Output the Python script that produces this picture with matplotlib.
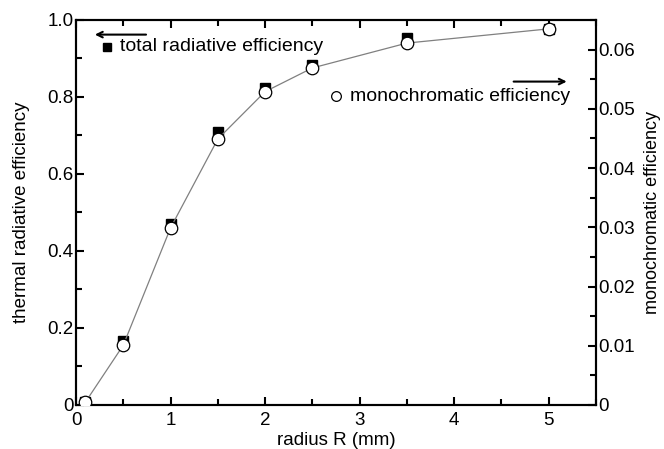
import matplotlib.pyplot as plt
from matplotlib.ticker import MultipleLocator

plt.rcParams['font.family'] = ['Liberation Sans', 'DejaVu Sans']

# radius R (mm)
radius = [0.1, 0.5, 1.0, 1.5, 2.0, 2.5, 3.5, 5.0]
# total radiative efficiency (left axis)
total_eff = [0.008, 0.165, 0.47, 0.71, 0.823, 0.882, 0.952, 0.977]
# monochromatic efficiency (right axis)
mono_eff = [0.0005, 0.0101, 0.0299, 0.0449, 0.0529, 0.0569, 0.0611, 0.0635]

fig = plt.figure(figsize=(6.64, 4.49), dpi=100)
ax = fig.add_axes([0.1145, 0.098, 0.783, 0.8575])
ax2 = ax.twinx()

ax.plot(radius, total_eff, 's', color='black', markersize=7, zorder=2)
ax2.plot(radius, mono_eff, '-', color='#808080', linewidth=0.9, zorder=1)
ax2.plot(radius, mono_eff, 'o', color='black', markerfacecolor='white',
         markersize=9, markeredgewidth=0.9, zorder=3)

ax.set_xlim(0, 5.5)
ax.set_ylim(0, 1.0)
ax2.set_ylim(0, 0.065)

ax.xaxis.set_minor_locator(MultipleLocator(0.5))
ax.yaxis.set_minor_locator(MultipleLocator(0.1))
ax2.yaxis.set_minor_locator(MultipleLocator(0.005))

ax.set_xticks([0, 1, 2, 3, 4, 5])
ax.set_xticklabels(['0', '1', '2', '3', '4', '5'])
ax.set_yticks([0, 0.2, 0.4, 0.6, 0.8, 1.0])
ax.set_yticklabels(['0', '0.2', '0.4', '0.6', '0.8', '1.0'])
ax2.set_yticks([0, 0.01, 0.02, 0.03, 0.04, 0.05, 0.06])
ax2.set_yticklabels(['0', '0.01', '0.02', '0.03', '0.04', '0.05', '0.06'])

for a in (ax, ax2):
    a.tick_params(which='major', direction='in', length=6, width=1.5, labelsize=13.5, pad=2)
    a.tick_params(which='minor', direction='in', length=4, width=1.5)
    for s in a.spines.values():
        s.set_linewidth(1.5)
ax.tick_params(axis='x', which='both', top=True, pad=5)

ax.set_xlabel('radius R (mm)', fontsize=13.5, labelpad=2)
ax.set_ylabel('thermal radiative efficiency', fontsize=13.5, labelpad=12)
ax2.set_ylabel('monochromatic efficiency', fontsize=13, labelpad=6)

# legend-like annotations
ax.plot([0.33], [0.93], 's', color='black', markersize=6, clip_on=False)
ax.text(0.47, 0.93, 'total radiative efficiency', fontsize=14, va='center')
ax.annotate('', xy=(0.17, 0.962), xytext=(0.77, 0.962),
            arrowprops=dict(arrowstyle='->', color='black', lw=1.5))

ax.plot([2.75], [0.802], 'o', color='black', markerfacecolor='white',
        markersize=7, markeredgewidth=0.9)
ax.text(2.9, 0.802, 'monochromatic efficiency', fontsize=14, va='center')
ax.annotate('', xy=(5.22, 0.84), xytext=(4.6, 0.84),
            arrowprops=dict(arrowstyle='->', color='black', lw=1.5))

plt.savefig('out.png', dpi=100)
